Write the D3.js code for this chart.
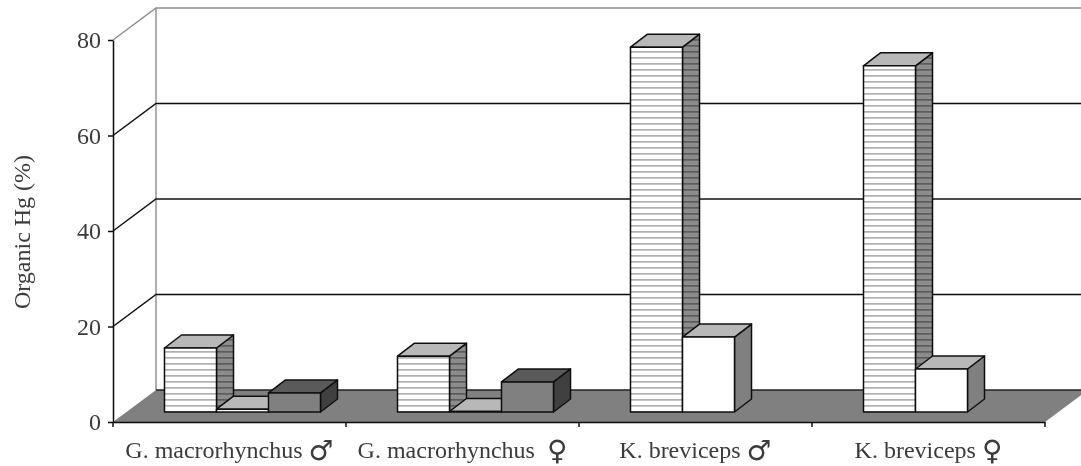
<!DOCTYPE html>
<html>
<head>
<meta charset="utf-8">
<script src="https://cdn.jsdelivr.net/npm/d3@7"></script>
<style>
  html, body { margin: 0; padding: 0; background: #fff; }
  svg { display: block; }
  text { font-family: "Liberation Serif", serif; fill: #3a3a3a; }
</style>
</head>
<body>
<div id="chart-area"></div>
<script>
// last character of each label is the sex symbol, drawn bigger
const categories = ['G. macrorhynchus ♂', 'G. macrorhynchus  ♀', 'K. breviceps ♂', 'K. breviceps ♀']
const seriesNames = ['striped', 'white', 'dark']
const striped = [13.4, 11.7, 76.4, 72.5]
const white = [0.6, 0.1, 15.7, 9]
const dark = [4, 6.3, null, null]
const yTicks = [0, 20, 40, 60, 80]

const width = 1081, height = 466

// offsets of the 3d projection
const wall = { dx: 43, dy: -32 }  // front of floor -> back wall
const gap = { dx: 13, dy: -10 }   // front of floor -> front of bars
const depth = { dx: 17, dy: -13 } // depth of one bar

let svg = d3.select('#chart-area')
  .append('svg')
  .attr('width', width)
  .attr('height', height)

let defs = svg.append('defs')

function stripes(id, bg, line) {
  let p = defs.append('pattern')
    .attr('id', id)
    .attr('patternUnits', 'userSpaceOnUse')
    .attr('width', 8)
    .attr('height', 6)
  p.append('rect').attr('width', 8).attr('height', 6).attr('fill', bg)
  p.append('rect').attr('y', 3).attr('width', 8).attr('height', 1.7).attr('fill', line)
}
stripes('hatch-front', '#fff', '#b0b0b0')
stripes('hatch-side', '#8c8c8c', '#5c5c5c')

defs.append('filter').attr('id', 'soft')
  .append('feGaussianBlur').attr('stdDeviation', 0.5)

let g = svg.append('g').attr('filter', 'url(#soft)')

let x = d3.scaleBand()
  .domain(categories)
  .range([113, 1045])

let x1 = d3.scaleBand()
  .domain(seriesNames)
  .range([0, 156])

let y = d3.scaleLinear()
  .domain([0, 80])
  .range([422, 40])

const line = d3.line()

// back wall edges
g.append('path')
  .attr('d', line([[x.range()[0], y(80)], [x.range()[0] + wall.dx, y(80) + wall.dy], [width, y(80) + wall.dy]]))
  .attr('fill', 'none')
  .attr('stroke', '#8c8c8c')
  .attr('stroke-width', 1.4)
g.append('path')
  .attr('d', line([[x.range()[0] + wall.dx, y(80) + wall.dy], [x.range()[0] + wall.dx, y(0) + wall.dy]]))
  .attr('fill', 'none')
  .attr('stroke', '#8c8c8c')
  .attr('stroke-width', 1.4)

// gridlines
g.selectAll('.grid')
  .data(yTicks.filter(d => d > 0 && d < 80))
  .join('path')
  .attr('class', 'grid')
  .attr('d', d => line([[x.range()[0], y(d)], [x.range()[0] + wall.dx, y(d) + wall.dy], [width, y(d) + wall.dy]]))
  .attr('fill', 'none')
  .attr('stroke', '#111')
  .attr('stroke-width', 1.5)

// floor, only its back edge has a line
g.append('path')
  .attr('d', line([
    [x.range()[0], y(0)],
    [x.range()[1], y(0)],
    [x.range()[1] + wall.dx, y(0) + wall.dy],
    [x.range()[0] + wall.dx, y(0) + wall.dy]
  ]) + 'Z')
  .attr('fill', '#808080')
g.append('path')
  .attr('d', line([[x.range()[0] + wall.dx, y(0) + wall.dy], [x.range()[1] + wall.dx, y(0) + wall.dy]]))
  .attr('stroke', '#222')
  .attr('stroke-width', 1.5)

// axes
let yAxis = g.append('g')
  .attr('transform', `translate(${x.range()[0]}, 0)`)
  .call(d3.axisLeft(y).tickValues(yTicks).tickSize(5).tickSizeOuter(0).tickPadding(7))
yAxis.selectAll('text').style('font-size', '24px').style('font-family', '"Liberation Serif", serif').attr('fill', '#3a3a3a')
yAxis.selectAll('line, path').attr('stroke', '#111').attr('stroke-width', 1.5)

let xAxis = g.append('g')
  .attr('transform', `translate(0, ${y(0)})`)
  .call(d3.axisBottom(x).tickValues([]).tickSizeOuter(0))
xAxis.select('path').attr('stroke', '#111').attr('stroke-width', 1.5)

// ticks sit between the groups
g.selectAll('.xtick')
  .data(categories.concat('end'))
  .join('line')
  .attr('class', 'xtick')
  .attr('x1', d => d === 'end' ? x.range()[1] : x(d))
  .attr('x2', d => d === 'end' ? x.range()[1] : x(d))
  .attr('y1', y(0))
  .attr('y2', y(0) + 5)
  .attr('stroke', '#111')
  .attr('stroke-width', 1.5)

let cat = g.selectAll('.cat')
  .data(categories)
  .join('text')
  .attr('class', 'cat')
  .attr('x', d => x(d) + x.bandwidth() / 2)
  .attr('y', 458)
  .attr('text-anchor', 'middle')
  .style('font-size', '24px')
  .style('white-space', 'pre')
cat.append('tspan').text(d => d.slice(0, -1))
cat.append('tspan')
  .attr('dy', 2)
  .style('font-family', '"DejaVu Sans", sans-serif')
  .style('font-size', '28px')
  .text(d => d.slice(-1))

g.append('text')
  .attr('transform', 'translate(30, 232) rotate(-90)')
  .attr('text-anchor', 'middle')
  .style('font-size', '24px')
  .text('Organic Hg (%)')

// bars
const faces = {
  striped: { front: 'url(#hatch-front)', top: '#b8b8b8', side: 'url(#hatch-side)' },
  white: { front: '#fff', top: '#b8b8b8', side: '#808080' },
  dark: { front: '#808080', top: '#5a5a5a', side: '#404040' }
}
const values = { striped, white, dark }

let rows = []
categories.forEach((c, i) => {
  seriesNames.forEach(s => {
    if (values[s][i] != null) rows.push({ cat: c, series: s, value: values[s][i] })
  })
})

let bar = g.selectAll('.bar')
  .data(rows)
  .join('g')
  .attr('class', 'bar')
  .attr('stroke', '#111')
  .attr('stroke-width', 1.5)
  .attr('stroke-linejoin', 'round')

function corners(d) {
  let w = x1.bandwidth()
  let x0 = x(d.cat) + (x.bandwidth() - x1.range()[1]) / 2 + gap.dx + x1(d.series)
  return { x0, x1: x0 + w, top: y(d.value) + gap.dy, base: y(0) + gap.dy }
}

bar.append('path')
  .attr('fill', d => faces[d.series].side)
  .attr('d', d => {
    let c = corners(d)
    return line([[c.x1, c.base], [c.x1 + depth.dx, c.base + depth.dy], [c.x1 + depth.dx, c.top + depth.dy], [c.x1, c.top]]) + 'Z'
  })

bar.append('path')
  .attr('fill', d => faces[d.series].top)
  .attr('d', d => {
    let c = corners(d)
    return line([[c.x0, c.top], [c.x1, c.top], [c.x1 + depth.dx, c.top + depth.dy], [c.x0 + depth.dx, c.top + depth.dy]]) + 'Z'
  })

bar.append('path')
  .attr('fill', d => faces[d.series].front)
  .attr('d', d => {
    let c = corners(d)
    return line([[c.x0, c.base], [c.x1, c.base], [c.x1, c.top], [c.x0, c.top]]) + 'Z'
  })
</script>
</body>
</html>
